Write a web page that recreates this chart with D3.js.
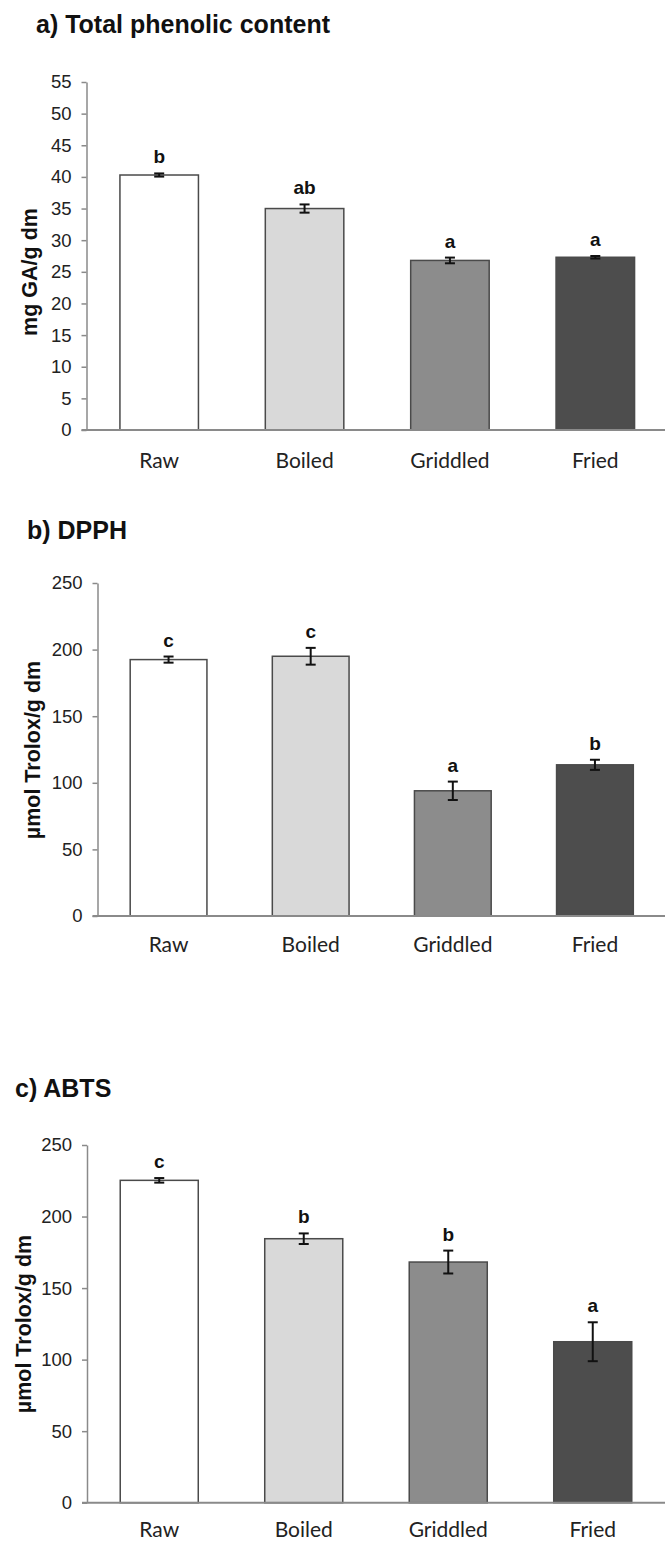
<!DOCTYPE html>
<html>
<head>
<meta charset="utf-8">
<script src="https://cdn.jsdelivr.net/npm/d3@7"></script>
<style>
	body { margin: 0; background: #fff; }
	svg { display: block; }
	.title { font-family: "Liberation Sans", Arial, sans-serif; font-weight: bold; font-size: 25px; fill: #111; }
	.ylabel { font-family: "Liberation Sans", Arial, sans-serif; font-weight: bold; font-size: 21.5px; fill: #111; }
	.tick text { font-family: "Liberation Sans", Arial, sans-serif; font-size: 18.5px; fill: #222; }
	.cat { font-family: Lato, "Open Sans", sans-serif; font-size: 21px; fill: #222; }
	.letter { font-family: "Liberation Sans", Arial, sans-serif; font-weight: bold; font-size: 19px; fill: #111; }
</style>
</head>
<body>
<svg width="665" height="1542"></svg>
<script>
var categories = ["Raw", "Boiled", "Griddled", "Fried"];
var barColors = ["#ffffff", "#d9d9d9", "#8c8c8c", "#4d4d4d"];

// a) total phenolic content, mg GA/g dm
var phenolMeans = [40.3, 35.0, 26.8, 27.3];
var phenolErrors = [0.25, 0.65, 0.45, 0.2];
var phenolLetters = ["b", "ab", "a", "a"];
var phenolTicks = [0, 5, 10, 15, 20, 25, 30, 35, 40, 45, 50, 55];

// b) DPPH, umol Trolox/g dm
var dpphMeans = [192.5, 195.0, 94.0, 113.5];
var dpphErrors = [2.3, 6.3, 6.9, 3.8];
var dpphLetters = ["c", "c", "a", "b"];
var dpphTicks = [0, 50, 100, 150, 200, 250];

// c) ABTS, umol Trolox/g dm
var abtsMeans = [225.3, 184.5, 168.2, 112.5];
var abtsErrors = [1.6, 3.7, 8.0, 13.6];
var abtsLetters = ["c", "b", "b", "a"];
var abtsTicks = [0, 50, 100, 150, 200, 250];

var svg = d3.select("svg");

function drawPanel(p) {
	var g = svg.append("g");

	var y = d3.scaleLinear()
		.domain([0, p.ticks[p.ticks.length - 1]])
		.range([p.bottom, p.top]);
	var x = d3.scaleBand()
		.domain(categories)
		.range([p.left, p.right])
		.paddingInner(0.46)
		.paddingOuter(0.23);

	// title
	g.append("text").attr("class", "title")
		.attr("x", p.titleX).attr("y", p.titleY)
		.text(p.title);

	// y label
	g.append("text").attr("class", "ylabel")
		.attr("text-anchor", "middle")
		.attr("transform", "translate(" + p.labelX + "," + p.labelY + ") rotate(-90)")
		.text(p.label);

	// y axis
	var yAxis = g.append("g")
		.attr("transform", "translate(" + p.left + ",0)")
		.call(d3.axisLeft(y).tickValues(p.ticks).tickSize(5).tickSizeOuter(0).tickPadding(10));
	yAxis.select(".domain").attr("stroke", "#8a8a8a").attr("stroke-width", 1.5);
	yAxis.selectAll(".tick line").attr("stroke", "#8a8a8a").attr("stroke-width", 1.5);

	// bars
	var data = categories.map(function(c, i) {
		return { cat: c, mean: p.means[i], err: p.errors[i], letter: p.letters[i], color: barColors[i] };
	});

	g.append("g").selectAll("rect").data(data).enter().append("rect")
		.attr("x", function(d) { return x(d.cat); })
		.attr("y", function(d) { return y(d.mean); })
		.attr("width", x.bandwidth())
		.attr("height", function(d) { return y(0) - y(d.mean); })
		.attr("fill", function(d) { return d.color; })
		.attr("stroke", "#4a4a4a")
		.attr("stroke-width", 1.5);

	// x axis line
	g.append("line")
		.attr("x1", p.left - 5).attr("x2", 665)
		.attr("y1", y(0)).attr("y2", y(0))
		.attr("stroke", "#8a8a8a").attr("stroke-width", 2);

	// error bars
	var eb = g.append("g").attr("stroke", "#111").attr("stroke-width", 2)
		.selectAll("g").data(data).enter().append("g")
		.attr("transform", function(d) { return "translate(" + (x(d.cat) + x.bandwidth() / 2) + ",0)"; });
	eb.append("line")
		.attr("y1", function(d) { return y(d.mean - d.err); })
		.attr("y2", function(d) { return y(d.mean + d.err); });
	eb.append("line").attr("x1", -5).attr("x2", 5)
		.attr("y1", function(d) { return y(d.mean + d.err); })
		.attr("y2", function(d) { return y(d.mean + d.err); });
	eb.append("line").attr("x1", -5).attr("x2", 5)
		.attr("y1", function(d) { return y(d.mean - d.err); })
		.attr("y2", function(d) { return y(d.mean - d.err); });

	// significance letters
	g.append("g").selectAll("text").data(data).enter().append("text")
		.attr("class", "letter")
		.attr("text-anchor", "middle")
		.attr("x", function(d) { return x(d.cat) + x.bandwidth() / 2; })
		.attr("y", function(d) { return y(d.mean + d.err) - 10; })
		.text(function(d) { return d.letter; });

	// category labels
	g.append("g").selectAll("text").data(categories).enter().append("text")
		.attr("class", "cat")
		.attr("text-anchor", "middle")
		.attr("x", function(d) { return x(d) + x.bandwidth() / 2; })
		.attr("y", y(0) + p.catOffset)
		.text(function(d) { return d; });
}

drawPanel({
	title: "a) Total phenolic content", titleX: 36, titleY: 33,
	label: "mg GA/g dm", labelX: 37, labelY: 272,
	left: 86.5, right: 668, top: 82, bottom: 430, catOffset: 38,
	ticks: phenolTicks, means: phenolMeans, errors: phenolErrors, letters: phenolLetters
});

drawPanel({
	title: "b) DPPH", titleX: 27, titleY: 539,
	label: "µmol Trolox/g dm", labelX: 40, labelY: 750,
	left: 97.5, right: 666, top: 583, bottom: 916, catOffset: 36,
	ticks: dpphTicks, means: dpphMeans, errors: dpphErrors, letters: dpphLetters
});

drawPanel({
	title: "c) ABTS", titleX: 15, titleY: 1097,
	label: "µmol Trolox/g dm", labelX: 31, labelY: 1324,
	left: 87, right: 665, top: 1145, bottom: 1502.7, catOffset: 34,
	ticks: abtsTicks, means: abtsMeans, errors: abtsErrors, letters: abtsLetters
});
</script>
</body>
</html>
